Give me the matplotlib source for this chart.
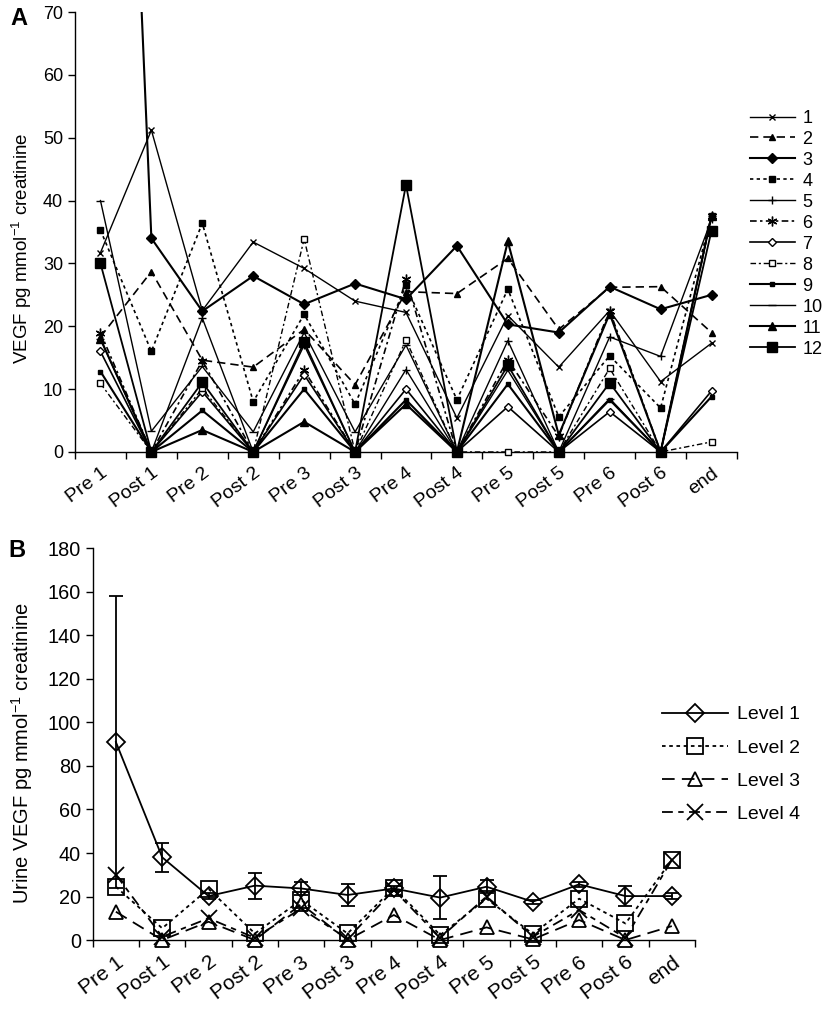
import matplotlib
matplotlib.use("Agg")
import matplotlib.pyplot as plt
import matplotlib.transforms as mtransforms
from matplotlib.lines import Line2D

plt.rcParams['font.family'] = ['Liberation Sans', 'DejaVu Sans']
plt.rcParams['mathtext.fontset'] = 'custom'
plt.rcParams['mathtext.rm'] = 'Liberation Sans'
plt.rcParams['mathtext.it'] = 'Liberation Sans:italic'

timepoints = ['Pre 1', 'Post 1', 'Pre 2', 'Post 2', 'Pre 3', 'Post 3', 'Pre 4',
              'Post 4', 'Pre 5', 'Post 5', 'Pre 6', 'Post 6', 'end']

# panel A: individual patients (VEGF pg/mmol creatinine)
patient_1 = [31.7, 51.2, 22.5, 33.4, 29.2, 24.0, 22.2, 5.4, 21.7, 13.5, 22.5, 11.2, 17.3]
patient_2 = [18.3, 28.7, 14.6, 13.5, 19.5, 10.7, 25.5, 25.2, 30.8, 19.5, 26.2, 26.3, 19.0]
patient_3 = [223.0, 34.0, 22.4, 28.0, 23.5, 26.8, 24.3, 32.8, 20.3, 19.0, 26.3, 22.7, 25.0]
patient_4 = [35.3, 16.0, 36.4, 8.0, 21.9, 7.6, 26.5, 8.3, 25.9, 5.6, 15.3, 7.0, 37.5]
patient_5 = [18.0, 0, 21.3, 0, 17.0, 0, 13.1, 0, 17.7, 0, 18.3, 15.2, 37.0]
patient_6 = [19.0, 0, 14.5, 0, 13.0, 0, 27.5, 0, 14.7, 2.5, 22.5, 0, 37.5]
patient_7 = [16.0, 0, 9.6, 0, 12.3, 0, 10.0, 0, 7.2, 0, 6.4, 0, 9.7]
patient_8 = [10.9, 0, 10.1, 0, 33.9, 0, 17.8, 0, 0, 0, 13.3, 0, 1.6]
patient_9 = [12.8, 0, 6.6, 0, 10.0, 0, 8.3, 0, 10.8, 0, 8.3, 0, 8.8]
patient_10 = [40.0, 3.3, 13.6, 3.2, 19.0, 3.2, 17.0, 0, 13.0, 0, 8.5, 0, 37.5]
patient_11 = [18.0, 0, 3.5, 0, 4.8, 0, 7.6, 0, 33.5, 2.7, 22.0, 0, 37.6]
patient_12 = [30.0, 0, 11.1, 0, 17.5, 0, 42.5, 0, 13.8, 0, 11.0, 0, 35.2]

patients = [patient_1, patient_2, patient_3, patient_4, patient_5, patient_6,
            patient_7, patient_8, patient_9, patient_10, patient_11, patient_12]
patient_names = [str(i) for i in range(1, 13)]

# panel B: dose level means
level_1 = [91.0, 38.0, 20.2, 25.0, 23.7, 20.7, 23.7, 19.5, 24.5, 17.6, 25.6, 20.2, 20.2]
level_1_err = [67.0, 6.7, 1.5, 6.0, 3.0, 5.0, 1.0, 9.7, 3.0, 1.0, 1.0, 4.5, 1.5]
level_2 = [24.5, 5.4, 23.5, 3.0, 18.4, 3.0, 24.0, 2.3, 19.0, 2.8, 19.0, 7.6, 36.8]
level_3 = [13.0, 0, 8.4, 0, 16.5, 0, 11.5, 0, 5.8, 0.3, 9.2, 0, 6.4]
level_4 = [30.0, 1.5, 10.0, 1.0, 14.5, 0.5, 23.0, 1.0, 20.0, 1.5, 13.8, 1.0, 36.8]

# marker, size, filled, linestyle, linewidth  (one per patient)
patient_styles = [
    ('x', 4, True, '-', 1.0),
    ('^', 4, True, (0, (5, 3)), 1.2),
    ('D', 5, True, '-', 1.5),
    ('s', 4, True, (0, (2, 2)), 1.2),
    ('+', 6, True, '-', 1.0),
    ((6, 2, 0), 7, True, (0, (4, 2, 1.5, 2)), 1.2),
    ('D', 4, False, '-', 1.2),
    ('s', 5, False, (0, (4, 2, 1.5, 2)), 1.0),
    ('s', 3.5, True, '-', 1.5),
    ('_', 6, True, '-', 1.0),
    ('^', 6, True, '-', 1.5),
    ('s', 6.5, True, '-', 1.3),
]

level_styles = [
    ('Level 1', 'D', 9, '-'),
    ('Level 2', 's', 11, (0, (2, 2))),
    ('Level 3', '^', 10, (0, (7, 4))),
    ('Level 4', 'x', 11, (0, (6, 3, 3, 3))),
]


def style_axis(fig, ax, ymax, ystep, ysize, xsize):
    n = len(timepoints)
    ax.set_xlim(-0.5, n - 0.5)
    ax.set_ylim(0, ymax)
    ax.set_yticks(range(0, ymax + 1, ystep))
    ax.set_xticks(range(n))
    ax.set_xticklabels(timepoints, rotation=37, ha='right', va='top',
                       rotation_mode='anchor', fontsize=xsize)
    shift = mtransforms.ScaledTranslation(-5 / 100, 0, fig.dpi_scale_trans)
    for lab in ax.get_xticklabels():
        lab.set_transform(lab.get_transform() + shift)
    ax.set_xticks([i - 0.5 for i in range(n + 1)], minor=True)
    ax.tick_params(axis='x', which='major', length=0, pad=9)
    ax.tick_params(axis='x', which='minor', length=5, direction='out', width=1)
    ax.tick_params(axis='y', length=5, width=1, labelsize=ysize)
    for side in ['top', 'right']:
        ax.spines[side].set_visible(False)
    for side in ['left', 'bottom']:
        ax.spines[side].set_linewidth(1)


def plot_patients(fig):
    ax = fig.add_axes([0.0909, 0.5556, 0.8024, 0.4326])
    x = range(len(timepoints))
    for name, values, (mk, ms, filled, ls, lw) in zip(patient_names, patients, patient_styles):
        ax.plot(x, values, color='black', linestyle=ls, linewidth=lw, marker=mk,
                markersize=ms, markerfacecolor='black' if filled else 'white',
                markeredgecolor='black', markeredgewidth=1, label=name,
                clip_on=(name == '3'), zorder=3)
    style_axis(fig, ax, 70, 10, 13, 14)
    ax.legend(loc='upper left', bbox_to_anchor=(0.909, 0.892),
              bbox_transform=fig.transFigure, frameon=False, fontsize=13,
              handlelength=2.5, handletextpad=0.4, labelspacing=0.22,
              borderpad=0, borderaxespad=0)
    fig.text(0.027, 0.756, 'VEGF pg mmol$^{-1}$ creatinine', rotation=90,
             ha='center', va='center', fontsize=13.5)
    fig.text(0.023, 0.982, 'A', fontsize=17, fontweight='bold', ha='center', va='center')


def plot_levels(fig):
    ax = fig.add_axes([0.1124, 0.0757, 0.730, 0.385])
    x = range(len(timepoints))
    ax.errorbar(x, level_1, yerr=level_1_err, color='black', linestyle='-',
                linewidth=1.3, marker='D', markersize=9, markerfacecolor='none',
                markeredgewidth=1.3, capsize=5, elinewidth=1.3, capthick=1.3,
                clip_on=False, zorder=4)
    for values, (name, mk, ms, ls) in zip([level_2, level_3, level_4], level_styles[1:]):
        ax.plot(x, values, color='black', linestyle=ls, linewidth=1.3,
                marker=mk, markersize=ms, markerfacecolor='none', markeredgewidth=1.3,
                clip_on=False, zorder=3)
    handles = [Line2D([], [], color='black', linestyle=ls, linewidth=1.3, marker=mk,
                      markersize=ms, markerfacecolor='none', markeredgewidth=1.3)
               for name, mk, ms, ls in level_styles]
    style_axis(fig, ax, 180, 20, 14.3, 15)
    ax.legend(handles, [s[0] for s in level_styles], loc='upper left',
              bbox_to_anchor=(0.802, 0.306), bbox_transform=fig.transFigure,
              frameon=False, fontsize=14, handlelength=3.4, handletextpad=0.5,
              labelspacing=0.8, borderpad=0, borderaxespad=0)
    fig.text(0.027, 0.26, 'Urine VEGF pg mmol$^{-1}$ creatinine', rotation=90,
             ha='center', va='center', fontsize=14.5)
    fig.text(0.021, 0.459, 'B', fontsize=17, fontweight='bold', ha='center', va='center')


def main():
    fig = plt.figure(figsize=(8.25, 10.17), dpi=100)
    plot_patients(fig)
    plot_levels(fig)
    fig.savefig('out.png', dpi=100)


if __name__ == "__main__":
    main()
